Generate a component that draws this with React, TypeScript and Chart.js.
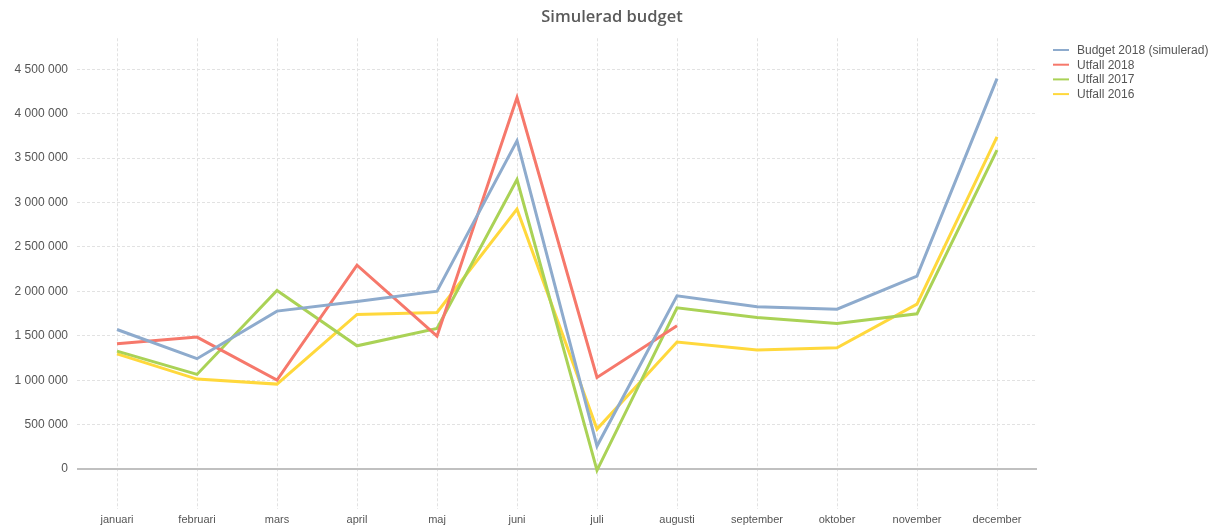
import React, { useEffect, useRef } from "react";
import { Chart, registerables } from "chart.js";

Chart.register(...registerables);

const months = [
  "januari", "februari", "mars", "april", "maj", "juni",
  "juli", "augusti", "september", "oktober", "november", "december",
];

const budget2018 = [1571000, 1242000, 1777500, 1885000, 2002500, 3695000, 258750, 1950000, 1826000, 1800000, 2171250, 4395000];
const utfall2018: (number | null)[] = [1410000, 1485000, 1001000, 2295000, 1496000, 4182000, 1031000, 1612000, null, null, null, null];
const utfall2017 = [1327500, 1065000, 2010000, 1387000, 1582500, 3259000, -15000, 1815000, 1706000, 1639000, 1747500, 3589000];
const utfall2016 = [1297000, 1012500, 956000, 1740000, 1762500, 2925000, 450000, 1428750, 1338750, 1365000, 1856000, 3738000];

const seriesNames = ["Budget 2018 (simulerad)", "Utfall 2018", "Utfall 2017", "Utfall 2016"];
const seriesColors = ["#8eabcd", "#f6786b", "#aad256", "#ffd83c"];
const yTickValues = [0, 500000, 1000000, 1500000, 2000000, 2500000, 3000000, 3500000, 4000000, 4500000];

const FONT = "'Liberation Sans', Arial, sans-serif";

const fmt = (v: number) => String(Math.round(v)).replace(/\B(?=(\d{3})+(?!\d))/g, " ");

const zeroLinePlugin = {
  id: "zeroLine",
  beforeDatasetsDraw(chart: any) {
    const y = chart.scales.y.getPixelForValue(0);
    const { left, right } = chart.chartArea;
    const ctx = chart.ctx;
    ctx.save();
    ctx.strokeStyle = "#c0c0c0";
    ctx.lineWidth = 2;
    ctx.beginPath();
    ctx.moveTo(left, y);
    ctx.lineTo(right, y);
    ctx.stroke();
    ctx.restore();
  },
};

const legendPlugin = {
  id: "customLegend",
  afterDraw(chart: any) {
    const ctx = chart.ctx;
    ctx.save();
    ctx.font = `12px ${FONT}`;
    ctx.textBaseline = "middle";
    ctx.textAlign = "left";
    chart.data.datasets.forEach((ds: any, i: number) => {
      const y = 50 + i * 14.7;
      ctx.strokeStyle = ds.borderColor;
      ctx.lineWidth = 2;
      ctx.beginPath();
      ctx.moveTo(1053, y);
      ctx.lineTo(1069, y);
      ctx.stroke();
      ctx.fillStyle = "#555";
      ctx.fillText(ds.label, 1077, y + 0.5);
    });
    ctx.restore();
  },
};

export default function App() {
  const ref = useRef<HTMLCanvasElement | null>(null);

  useEffect(() => {
    if (!ref.current) return;
    const allData = [budget2018, utfall2018, utfall2017, utfall2016];
    const chart = new Chart(ref.current, {
      type: "line",
      data: {
        labels: months,
        datasets: allData.map((d, i) => ({
          label: seriesNames[i],
          data: d,
          borderColor: seriesColors[i],
          backgroundColor: seriesColors[i],
          borderWidth: 3,
          pointRadius: 0,
          pointHoverRadius: 0,
          tension: 0,
          fill: false,
          yAxisID: "y",
        })),
      },
      options: {
        animation: false,
        responsive: true,
        maintainAspectRatio: false,
        layout: { padding: { left: 9, right: 0, top: 0, bottom: 0 } },
        plugins: {
          legend: { display: false },
          tooltip: { enabled: false },
          title: {
            display: true,
            text: "Simulerad budget",
            color: "#5a5a5a",
            font: { family: "'Open Sans', sans-serif", size: 16.5, weight: "600" },
            padding: { top: 7, bottom: 11.5 },
          },
        },
        scales: {
          x: {
            offset: true,
            grid: {
              offset: false,
              color: "#e2e2e2",
              lineWidth: 1,
              drawTicks: false,
            },
            border: { display: false, dash: [3, 2] },
            ticks: { color: "#555", font: { family: FONT, size: 11 }, padding: 4, maxRotation: 0, autoSkip: false },
            afterFit: (s: any) => { s.height = 17; },
          },
          y: {
            min: -450000,
            max: 4848750,
            afterBuildTicks: (s: any) => { s.ticks = yTickValues.map((v) => ({ value: v })); },
            grid: {
              color: (c: any) => (c.tick && c.tick.value === 0 ? "rgba(0,0,0,0)" : "#e2e2e2"),
              lineWidth: 1,
              drawTicks: false,
            },
            border: { display: false, dash: [3, 2] },
            ticks: { color: "#555", font: { family: FONT, size: 12 }, padding: 9, callback: (v: any) => fmt(Number(v)) },
            afterFit: (s: any) => { s.width = 68; },
          },
          legendSpace: {
            type: "linear",
            position: "right",
            display: true,
            grid: { drawOnChartArea: false, display: false },
            border: { display: false },
            ticks: { display: false },
            afterFit: (s: any) => { s.width = 178; },
          },
        },
      },
      plugins: [zeroLinePlugin, legendPlugin],
    });
    return () => chart.destroy();
  }, []);

  return (
    <div style={{ position: "fixed", left: 0, top: 0, width: 1215, height: 526, background: "#fff" }}>
      <canvas ref={ref} />
    </div>
  );
}
